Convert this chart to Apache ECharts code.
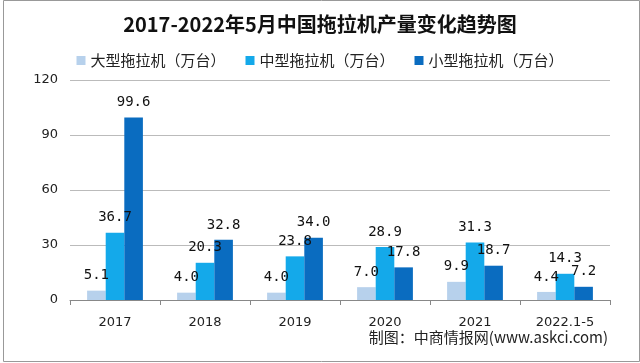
<!DOCTYPE html>
<html><head><meta charset="utf-8">
<script src="https://cdn.jsdelivr.net/npm/echarts@6/dist/echarts.min.js"></script>
<style>html,body{margin:0;padding:0;background:#fff}#c{width:640px;height:363px}</style>
</head><body><div id="c"></div>
<script>
var categories = ['2017','2018','2019','2020','2021','2022.1-5'];
var largeTractors = [5.1, 4.0, 4.0, 7.0, 9.9, 4.4];
var mediumTractors = [36.7, 20.3, 23.8, 28.9, 31.3, 14.3];
var smallTractors = [99.6, 32.8, 34.0, 17.8, 18.7, 7.2];
var seriesNames = ['大型拖拉机（万台）','中型拖拉机（万台）','小型拖拉机（万台）'];
var yTicks = [0, 30, 60, 90, 120];

var chart = echarts.init(document.getElementById('c'));
var labelStyle = {show:true, position:'top', distance:8, color:'#111', fontFamily:'DejaVu Sans Mono', fontSize:14, formatter:function(p){return p.value.toFixed(1);}};
chart.setOption({
  animation:false,
  title:{text:'2017-2022年5月中国拖拉机产量变化趋势图', left:'center', top:9,
    textStyle:{fontFamily:'Noto Sans CJK SC', fontWeight:'bold', fontSize:20, color:'#111'}},
  legend:{data:seriesNames, top:48, left:'center', itemWidth:9, itemHeight:9, itemGap:20,
    icon:'rect', textStyle:{fontFamily:'Noto Sans CJK SC', fontSize:15, color:'#222'}},
  grid:{left:70, right:30, top:80, bottom:63},
  xAxis:{type:'category', data:categories,
    axisLine:{lineStyle:{color:'#888'}}, axisTick:{show:true, lineStyle:{color:'#888'}, length:5},
    axisLabel:{color:'#222', fontSize:13, fontFamily:'DejaVu Sans', margin:16}},
  yAxis:{type:'value', min:0, max:120, interval:30,
    axisLine:{show:false}, axisTick:{show:false},
    splitLine:{lineStyle:{color:'#bbb'}},
    axisLabel:{color:'#222', fontSize:13, fontFamily:'DejaVu Sans', margin:12}},
  series:[
    {name:seriesNames[0], type:'bar', data:largeTractors, itemStyle:{color:'#b7d1ec'}, barGap:'0%', barCategoryGap:'38%', label:labelStyle},
    {name:seriesNames[1], type:'bar', data:mediumTractors, itemStyle:{color:'#14a9ea'}, label:labelStyle},
    {name:seriesNames[2], type:'bar', data:smallTractors, itemStyle:{color:'#0a6cc0'}, label:labelStyle}
  ],
  graphic:[
    {type:'text', right:32, top:330, style:{text:'制图：中商情报网(www.askci.com)', fontFamily:'Noto Sans CJK SC', fontSize:15, fill:'#222'}},
    {type:'rect', left:1, top:-2, shape:{width:636, height:361}, style:{fill:'none', stroke:'#999', lineWidth:1}}
  ]
});
</script></body></html>
